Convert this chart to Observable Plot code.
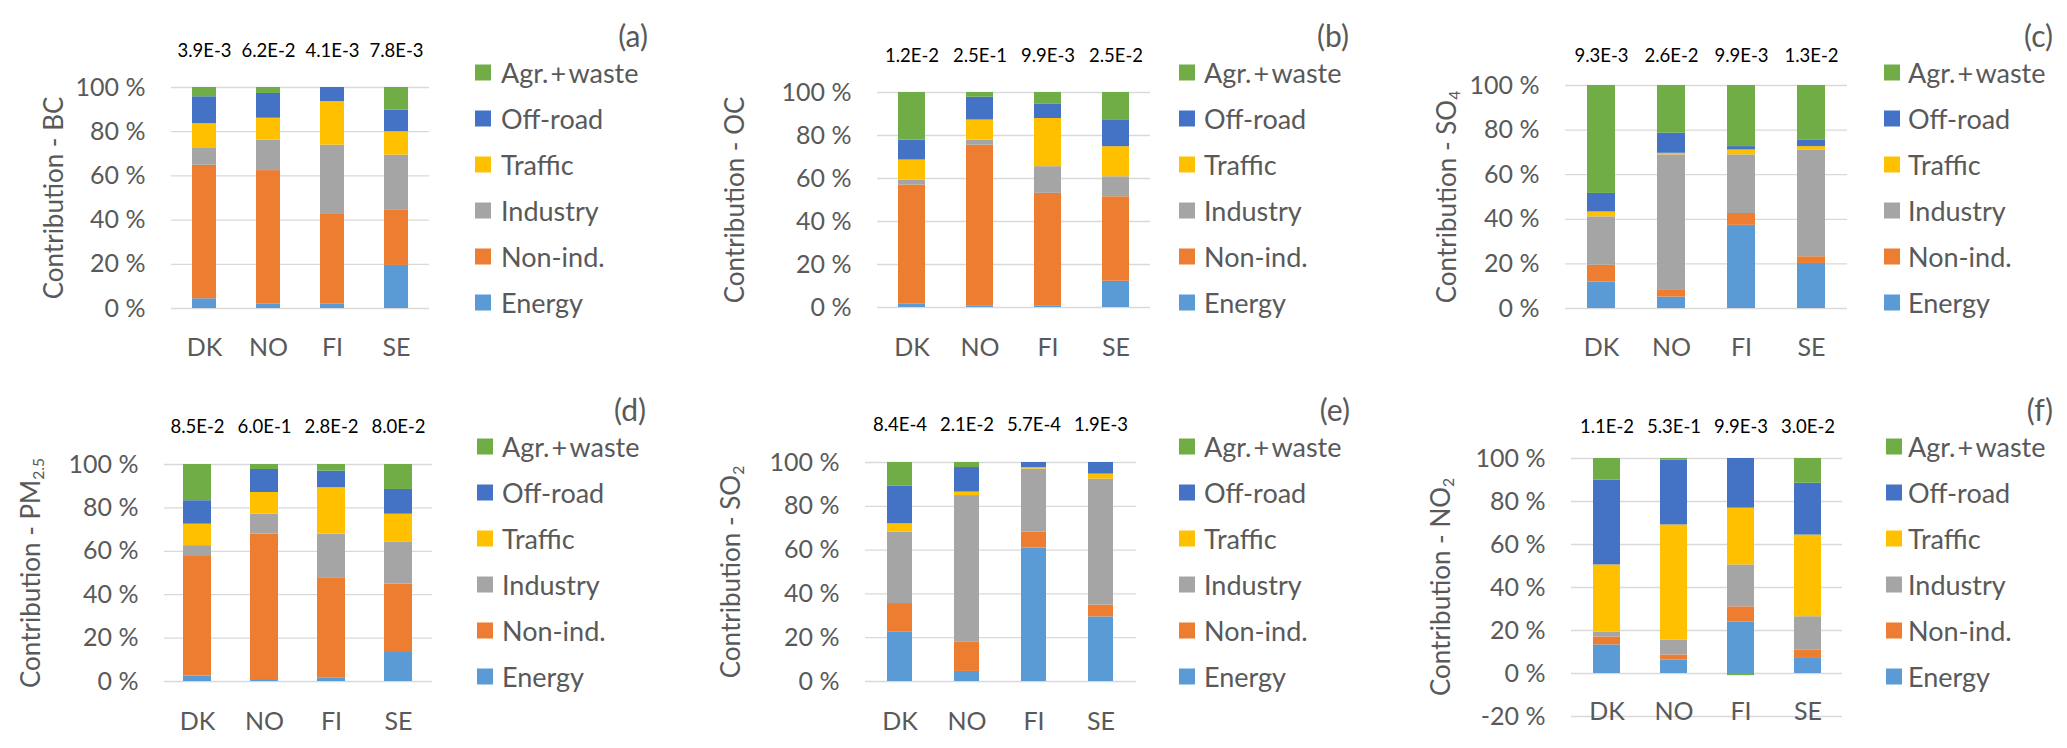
<!DOCTYPE html>
<html><head><meta charset="utf-8">
<script src="https://cdn.jsdelivr.net/npm/d3@7"></script>
<script src="https://cdn.jsdelivr.net/npm/@observablehq/plot@0.6"></script>
<style>
body{margin:0;background:#fff;font-family:Lato,sans-serif;}
#chart{position:relative;width:2067px;height:748px;overflow:hidden;}
.panel{position:absolute;width:689px;height:374px;}
.panel svg{position:absolute;left:0;top:0;}
.ytitle{position:absolute;white-space:nowrap;transform:translate(-50%,-50%) rotate(-90deg);font-size:26px;color:#595959;line-height:1;}
.ytitle sub{font-size:0.6em;vertical-align:-0.25em;line-height:0;}
.letter{position:absolute;font-size:30px;color:#595959;transform:translate(-100%,-50%);line-height:1;}
.leg{position:absolute;font-size:27px;color:#595959;white-space:nowrap;display:flex;align-items:center;transform:translateY(-50%);line-height:1;}
.leg .plus{margin:0 0.08em;}
.sw{width:16px;height:16px;display:inline-block;flex:none;}
</style></head><body><div id="chart"></div><script>
// ---- data ----
const countries = ["DK", "NO", "FI", "SE"];
const sources = ["Energy", "Non-ind.", "Industry", "Traffic", "Off-road", "Agr.+waste"];
const sourceColors = ["#5B9BD5", "#ED7D31", "#A5A5A5", "#FFC000", "#4472C4", "#70AD47"];
const yTicks = [0, 20, 40, 60, 80, 100];
const yTicksNO2 = [-20, 0, 20, 40, 60, 80, 100];

// values per country (rows: DK, NO, FI, SE), columns in sources order (%)
const bcValues = [
  [4.4, 60.4, 7.6, 11.2, 12.2, 4.2],
  [2.1, 60.3, 13.8, 9.9, 11.2, 2.7],
  [2.1, 40.8, 31.0, 19.7, 6.4, 0],
  [19.5, 24.9, 25.0, 10.6, 9.7, 10.3]
];
const bcTotals = ["3.9E-3", "6.2E-2", "4.1E-3", "7.8E-3"];

const ocValues = [
  [1.5, 55.5, 2.3, 9.3, 9.3, 22.1],
  [0.8, 74.7, 2.4, 9.3, 10.6, 2.2],
  [0.8, 52.3, 12.4, 22.4, 6.8, 5.3],
  [12.2, 39.3, 9.3, 14.0, 12.2, 13.0]
];
const ocTotals = ["1.2E-2", "2.5E-1", "9.9E-3", "2.5E-2"];

const so4Values = [
  [11.9, 7.5, 21.7, 2.2, 8.3, 48.4],
  [5.1, 3.0, 60.8, 0.7, 9.0, 21.4],
  [37.3, 5.3, 26.3, 2.2, 1.5, 27.4],
  [20.2, 3.0, 47.9, 1.5, 3.0, 24.4]
];
const so4Totals = ["9.3E-3", "2.6E-2", "9.9E-3", "1.3E-2"];

const pm25Values = [
  [2.5, 55.5, 4.6, 9.9, 10.8, 16.7],
  [0.9, 67.0, 9.2, 10.0, 10.6, 2.3],
  [1.5, 46.0, 20.4, 21.4, 7.6, 3.1],
  [13.8, 31.1, 19.2, 13.0, 11.4, 11.5]
];
const pm25Totals = ["8.5E-2", "6.0E-1", "2.8E-2", "8.0E-2"];

const so2Values = [
  [22.7, 12.9, 32.6, 3.8, 17.3, 10.7],
  [4.6, 13.5, 66.8, 1.6, 11.2, 2.3],
  [60.9, 7.3, 28.8, 0.7, 2.3, 0],
  [29.5, 5.4, 57.5, 2.3, 5.3, 0]
];
const so2Totals = ["8.4E-4", "2.1E-2", "5.7E-4", "1.9E-3"];

const no2Values = [
  [13.3, 3.7, 2.3, 31.2, 39.5, 10.0],
  [6.2, 2.4, 7.0, 53.5, 30.1, 0.8],
  [24.0, 7.0, 19.5, 26.4, 23.1, -1.0],
  [7.0, 3.8, 15.6, 38.0, 24.1, 11.5]
];
const no2Totals = ["1.1E-2", "5.3E-1", "9.9E-3", "3.0E-2"];

// ---- layout (panel-relative pixels) ----
const panels = [
  {letter: "(a)", title: "Contribution - BC", values: bcValues, totals: bcTotals, ticks: yTicks,
   left: 0, top: 0, gx0: 171, gx1: 429, yTop: 87, yBot: 308, pad: 0.63, titleX: 53,
   legSw: 475, legTx: 501, letterR: 648, numDy: -44, xPad: 30},
  {letter: "(b)", title: "Contribution - OC", values: ocValues, totals: ocTotals, ticks: yTicks,
   left: 689, top: 0, gx0: 188, gx1: 461, yTop: 92, yBot: 307, pad: 0.6, titleX: 45,
   legSw: 490, legTx: 515, letterR: 660, numDy: -44, xPad: 31},
  {letter: "(c)", title: "Contribution - SO<sub>4</sub>", values: so4Values, totals: so4Totals, ticks: yTicks,
   left: 1378, top: 0, gx0: 187, gx1: 469, yTop: 85, yBot: 308, pad: 0.6, titleX: 68,
   legSw: 506, legTx: 530, letterR: 675, numDy: -37, xPad: 30},
  {letter: "(d)", title: "Contribution - PM<sub>2.5</sub>", values: pm25Values, totals: pm25Totals, ticks: yTicks,
   left: 0, top: 374, gx0: 164, gx1: 432, yTop: 90, yBot: 307, pad: 0.58, titleX: 30,
   legSw: 477, legTx: 502, letterR: 646, numDy: -45, xPad: 31},
  {letter: "(e)", title: "Contribution - SO<sub>2</sub>", values: so2Values, totals: so2Totals, ticks: yTicks,
   left: 689, top: 374, gx0: 176, gx1: 447, yTop: 88, yBot: 307, pad: 0.62, titleX: 41,
   legSw: 490, legTx: 515, letterR: 661, numDy: -45, xPad: 31},
  {letter: "(f)", title: "Contribution - NO<sub>2</sub>", values: no2Values, totals: no2Totals, ticks: yTicksNO2,
   left: 1378, top: 374, gx0: 193, gx1: 464, yTop: 84, yBot: 342, pad: 0.6, titleX: 62,
   legSw: 508, legTx: 530, letterR: 675, numDy: -39, xPad: -14}
];

const chart = document.getElementById("chart");
const W = 689, H = 374;

for (const p of panels) {
  const data = countries.flatMap((c, i) => sources.map((s, j) => ({country: c, source: s, value: p.values[i][j]})));
  const div = document.createElement("div");
  div.className = "panel";
  div.style.left = p.left + "px";
  div.style.top = p.top + "px";
  chart.appendChild(div);

  const svg = Plot.plot({
    width: W, height: H,
    marginLeft: p.gx0, marginRight: W - p.gx1, marginTop: p.yTop, marginBottom: H - p.yBot,
    style: {background: "transparent", overflow: "visible", fontFamily: "Lato, sans-serif", color: "#595959", maxWidth: "none"},
    x: {domain: countries, paddingInner: p.pad, paddingOuter: p.pad / 2, axis: null},
    y: {domain: [p.ticks[0], 100], axis: null},
    color: {domain: sources, range: sourceColors},
    marks: [
      Plot.gridY({ticks: p.ticks, stroke: "#d9d9d9", strokeOpacity: 1, strokeWidth: 1.3}),
      Plot.barY(data, {x: "country", y: "value", fill: "source", order: sources}),
      Plot.axisY({ticks: p.ticks, tickSize: 0, tickPadding: 26, tickFormat: d => `${d} %`, fontSize: 25, label: null}),
      Plot.axisX({tickSize: 0, tickPadding: p.xPad, fontSize: 25, label: null}),
      Plot.text(countries, {x: d => d, text: (d, i) => p.totals[i], frameAnchor: "top", dy: p.numDy, fontSize: 18.5, fill: "black"})
    ]
  });
  div.appendChild(svg);

  const t = document.createElement("div");
  t.className = "ytitle";
  t.innerHTML = p.title;
  t.style.left = p.titleX + "px";
  t.style.top = ((p.yTop + p.yBot) / 2) + "px";
  div.appendChild(t);

  const l = document.createElement("div");
  l.className = "letter";
  l.textContent = p.letter;
  l.style.left = p.letterR + "px";
  l.style.top = "35px";
  div.appendChild(l);

  const legendOrder = sources.slice().reverse();
  legendOrder.forEach((s, k) => {
    const row = document.createElement("div");
    row.className = "leg";
    row.style.left = p.legSw + "px";
    row.style.top = (72 + k * 46) + "px";
    const sw = document.createElement("span");
    sw.className = "sw";
    sw.style.background = sourceColors[sources.indexOf(s)];
    sw.style.marginRight = (p.legTx - p.legSw - 16) + "px";
    row.appendChild(sw);
    const label = document.createElement("span");
    label.innerHTML = s.replace("+", '<span class="plus">+</span>');
    row.appendChild(label);
    div.appendChild(row);
  });
}
</script></body></html>
